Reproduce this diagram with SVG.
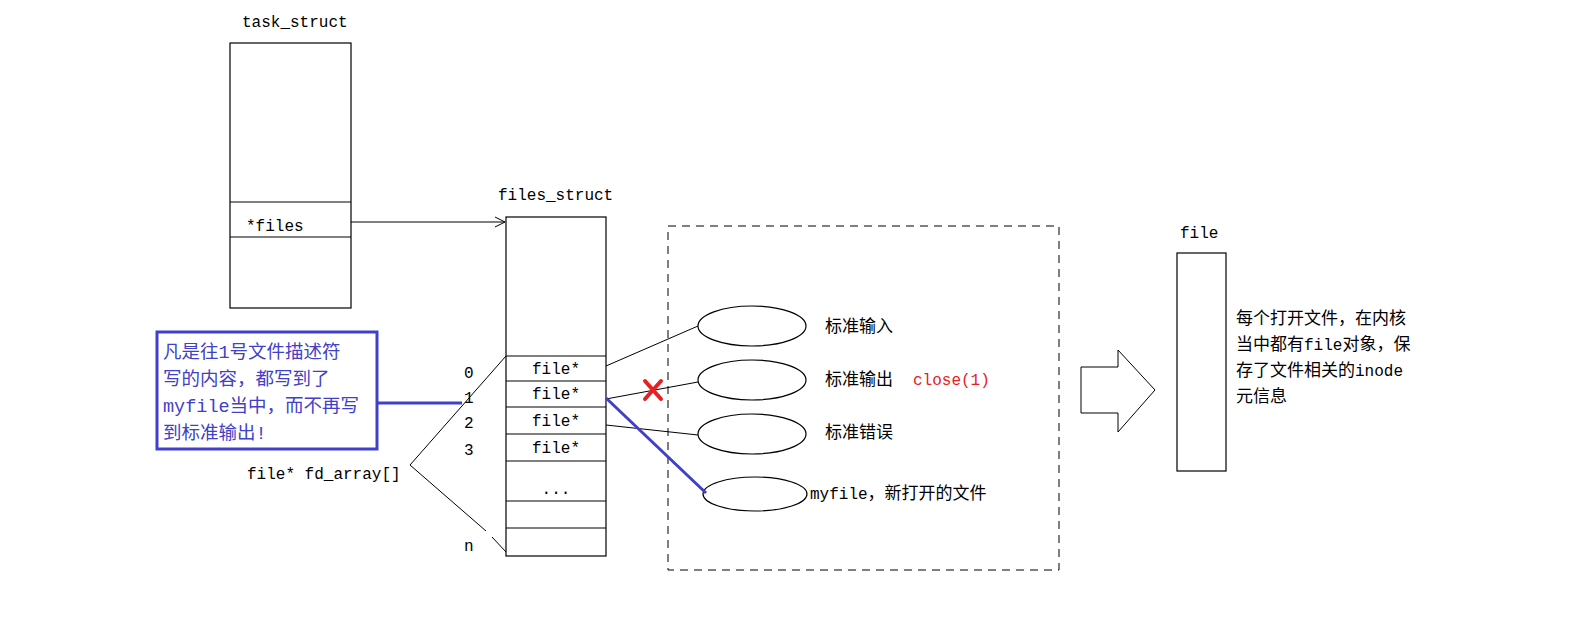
<svg xmlns="http://www.w3.org/2000/svg" width="1581" height="638" viewBox="0 0 1581 638">
<style>
.b{fill:none;stroke:#000;stroke-width:1.2}
.m{font-family:"Liberation Mono","Noto Sans CJK SC",monospace;font-size:16px;fill:#000}
.c{font-family:"Noto Sans CJK SC",sans-serif;font-size:17px;fill:#000}
.bl{font-family:"Liberation Mono","Noto Sans CJK SC",monospace;font-size:18.5px;fill:#4040c8}
.l{stroke:#000;stroke-width:1;fill:none}
</style>
<defs><marker id="a" markerWidth="12" markerHeight="12" refX="11" refY="6" orient="auto" markerUnits="userSpaceOnUse"><path d="M1,1 L11,6 L1,11" fill="none" stroke="#000"/></marker></defs>
<rect width="1581" height="638" fill="#fff"/>
<g id="task_struct">
<text class="m" x="242" y="27">task_struct</text>
<rect class="b" x="230" y="43" width="121" height="265"/>
<line class="l" x1="230" y1="202" x2="351" y2="202"/><line class="l" x1="230" y1="237" x2="351" y2="237"/>
<text class="m" x="246" y="231">*files</text>
</g>
<g id="files_struct">
<text class="m" x="498" y="200">files_struct</text>
<rect class="b" x="506" y="217" width="100" height="339"/>
<g class="l"><line x1="506" y1="356" x2="606" y2="356"/><line x1="506" y1="381" x2="606" y2="381"/><line x1="506" y1="407" x2="606" y2="407"/><line x1="506" y1="434" x2="606" y2="434"/><line x1="506" y1="461" x2="606" y2="461"/><line x1="506" y1="501" x2="606" y2="501"/><line x1="506" y1="528" x2="606" y2="528"/></g>
<g class="m" text-anchor="middle"><text x="556" y="374">file*</text><text x="556" y="399">file*</text><text x="556" y="426">file*</text><text x="556" y="453">file*</text><text x="556" y="494">...</text></g>
<g class="m"><text x="464" y="378">0</text><text x="464" y="403">1</text><text x="464" y="428">2</text><text x="464" y="455">3</text><text x="464" y="551">n</text></g>
<text class="m" x="247" y="479">file* fd_array[]</text>
</g>
<g id="note">
<rect x="157" y="332" width="220" height="117" fill="none" stroke="#4040c8" stroke-width="3"/>
<text class="bl" x="163" y="358">凡是往1号文件描述符</text>
<text class="bl" x="163" y="385">写的内容，都写到了</text>
<text class="bl" x="163" y="412">myfile当中，而不再写</text>
<text class="bl" x="163" y="439">到标准输出!</text>
</g>
<g id="files_set">
<rect x="668" y="226" width="391" height="344" fill="none" stroke="#000" stroke-dasharray="8,6"/>
<ellipse class="b" cx="752" cy="326" rx="54" ry="20"/>
<ellipse class="b" cx="752" cy="380" rx="54" ry="20"/>
<ellipse class="b" cx="752" cy="434" rx="54" ry="20"/>
<ellipse class="b" cx="755" cy="494" rx="52" ry="17"/>
<text class="c" x="825" y="332">标准输入</text>
<text class="c" x="825" y="385">标准输出</text>
<text class="m" x="913" y="385" style="fill:#e82020">close(1)</text>
<text class="c" x="825" y="438">标准错误</text>
<text class="c" x="810" y="499"><tspan class="m">myfile</tspan>，新打开的文件</text>
</g>
<g id="file_obj">
<path d="M1081,367 H1118 V350 L1155,390 L1118,432 V413 H1081 Z" fill="#fff" stroke="#000"/>
<text class="m" x="1180" y="238">file</text>
<rect class="b" x="1177" y="253" width="49" height="218"/>
<text class="c" x="1236" y="324">每个打开文件，在内核</text>
<text class="c" x="1236" y="350">当中都有<tspan class="m">file</tspan>对象，保</text>
<text class="c" x="1236" y="376">存了文件相关的<tspan class="m">inode</tspan></text>
<text class="c" x="1236" y="402">元信息</text>
</g>
<g id="connectors">
<line class="l" x1="351" y1="222" x2="505" y2="222" marker-end="url(#a)"/>
<line class="l" x1="410" y1="465" x2="506" y2="356"/>
<line class="l" x1="410" y1="465" x2="486" y2="531"/>
<line class="l" x1="492" y1="537" x2="506" y2="552"/>
<line class="l" x1="606" y1="366" x2="698" y2="326"/>
<line class="l" x1="606" y1="399" x2="698" y2="382"/>
<line class="l" x1="606" y1="425" x2="698" y2="435"/>
<line x1="606" y1="398" x2="706" y2="493" stroke="#4040c8" stroke-width="3"/>
<line x1="377" y1="403" x2="462" y2="403" stroke="#4040c8" stroke-width="3"/>
<path d="M645,381 L661,399 M661,381 L645,399" stroke="#e82020" stroke-width="4" stroke-linecap="round"/>
</g>
</svg>
